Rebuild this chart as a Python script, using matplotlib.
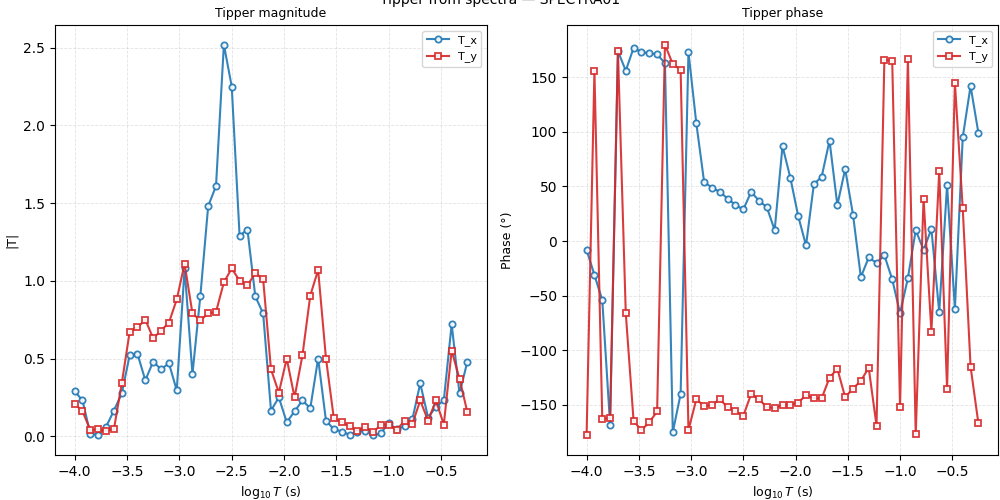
import matplotlib
matplotlib.use("Agg")
import matplotlib.pyplot as plt

# log10 period (s)
logT = [-4.000, -3.925, -3.850, -3.775, -3.700, -3.625, -3.550, -3.475, -3.400, -3.325,
        -3.250, -3.175, -3.100, -3.025, -2.950, -2.875, -2.800, -2.725, -2.650, -2.575,
        -2.500, -2.425, -2.350, -2.275, -2.200, -2.125, -2.050, -1.975, -1.900, -1.825,
        -1.750, -1.675, -1.600, -1.525, -1.450, -1.375, -1.300, -1.225, -1.150, -1.075,
        -1.000, -0.925, -0.850, -0.775, -0.700, -0.625, -0.550, -0.475, -0.400, -0.325,
        -0.250]

# |T|
tx_mag = [0.29, 0.23, 0.015, 0.01, 0.06, 0.165, 0.275, 0.52, 0.53, 0.36,
          0.48, 0.43, 0.47, 0.295, 1.08, 0.40, 0.90, 1.48, 1.61, 2.52,
          2.25, 1.29, 1.33, 0.90, 0.79, 0.165, 0.25, 0.09, 0.16, 0.23,
          0.18, 0.50, 0.10, 0.045, 0.03, 0.01, 0.03, 0.035, 0.005, 0.02,
          0.085, 0.045, 0.065, 0.11, 0.34, 0.12, 0.19, 0.23, 0.72, 0.275,
          0.48]
ty_mag = [0.21, 0.16, 0.04, 0.045, 0.035, 0.045, 0.34, 0.67, 0.70, 0.75,
          0.63, 0.68, 0.73, 0.88, 1.11, 0.79, 0.745, 0.79, 0.80, 0.99,
          1.08, 1.00, 0.97, 1.05, 1.01, 0.43, 0.28, 0.50, 0.25, 0.52,
          0.905, 1.07, 0.50, 0.115, 0.09, 0.065, 0.035, 0.06, 0.025, 0.075,
          0.075, 0.04, 0.10, 0.08, 0.23, 0.10, 0.23, 0.075, 0.55, 0.37,
          0.155]

# phase (deg)
tx_phase = [-8, -31, -54, -168, 174, 156, 177, 173, 172, 171,
            163, -175, -140, 173, 108, 54, 49, 45, 39, 33,
            29, 45, 37, 31, 10, 87, 58, 23, -4, 52,
            59, 92, 33, 66, 24, -33, -15, -20, -13, -35,
            -66, -34, 10, -8, 11, -65, 51, -62, 95, 142,
            99]
ty_phase = [-178, 156, -163, -162, 174, -66, -165, -173, -166, -156,
            180, 162, 157, -173, -145, -151, -150, -145, -152, -156,
            -160, -140, -145, -152, -153, -150, -150, -148, -141, -144,
            -144, -125, -117, -143, -135, -128, -116, -169, 166, 165,
            -152, 167, -177, 39, -83, 64, -135, 145, 30, -115,
            -167]

fig = plt.figure(figsize=(10, 5), dpi=100)
ax1 = fig.add_axes([0.055, 0.09, 0.432, 0.86])
ax2 = fig.add_axes([0.567, 0.09, 0.431, 0.86])

fig.suptitle("Tipper from spectra \u2014 SPECTRA01", y=1.0, va="center", fontsize=10)

style_x = dict(color="tab:blue", marker="o", ms=4.5, mfc="white", mew=1.3, lw=1.5, alpha=0.9, label="T_x")
style_y = dict(color="tab:red", marker="s", ms=4.5, mfc="white", mew=1.3, lw=1.5, alpha=0.9, label="T_y")

ax1.plot(logT, tx_mag, **style_x)
ax1.plot(logT, ty_mag, **style_y)
ax1.set_title("Tipper magnitude", fontsize=9)
ax1.set_ylabel("|T|", fontsize=9)

ax2.plot(logT, tx_phase, **style_x)
ax2.plot(logT, ty_phase, **style_y)
ax2.set_title("Tipper phase", fontsize=9)
ax2.set_ylabel("Phase (\u00b0)", fontsize=9)

for ax in (ax1, ax2):
    ax.set_xlabel(r"$\log_{10} T$ (s)", fontsize=9)
    ax.grid(True, ls="--", lw=0.6, alpha=0.35)
    ax.legend(loc="upper right", fontsize=8)

fig.savefig("out.png", dpi=100)
